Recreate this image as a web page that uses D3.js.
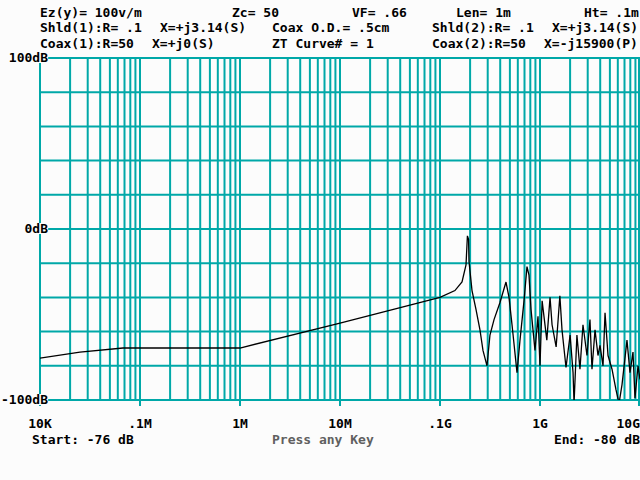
<!DOCTYPE html>
<html><head><meta charset="utf-8">
<script src="https://cdn.jsdelivr.net/npm/d3@7"></script>
<style>body{margin:0;background:#fcfcfc}text{font-family:"DejaVu Sans Mono",monospace;font-weight:bold;font-size:13px}</style>
</head><body><svg id="c" width="640" height="480"></svg>
<script>
const freqs=[1e4,2.51e4,6.76e4,1e6,1e7,1e8,1.41e8,1.66e8,1.82e8,1.88e8,1.93e8,1.95e8,2.09e8,2.29e8,2.51e8,2.69e8,2.95e8,3.16e8,3.47e8,3.98e8,4.57e8,4.9e8,5.25e8,5.89e8,6.31e8,6.92e8,7.41e8,7.76e8,8.13e8,8.91e8,9.55e8,1e9,1.05e9,1.17e9,1.26e9,1.32e9,1.45e9,1.58e9,1.66e9,1.82e9,2e9,2.14e9,2.19e9,2.34e9,2.51e9,2.69e9,2.95e9,3.16e9,3.31e9,3.55e9,3.8e9,3.98e9,4.27e9,4.47e9,4.79e9,5.25e9,5.75e9,6.17e9,6.61e9,7.41e9,7.94e9,8.51e9,8.91e9,9.55e9,1e10];
const dB=[-75.5,-72,-69.6,-69.6,-55,-40,-36,-31,-21,-4,-6,-19,-36,-47,-59,-71,-80,-62,-53,-43,-31,-40,-56,-84,-65,-42,-22,-27,-47,-71,-51,-80,-42,-65,-40,-56,-69,-39,-59,-81,-62,-84,-102,-62,-82,-56,-74,-53,-82,-59,-74,-68,-80,-49,-74,-82,-94,-102,-91,-65,-84,-72,-99,-80,-88];
const xTickVals=[1e4,1e5,1e6,1e7,1e8,1e9,1e10];
const xTickLabels=["10K",".1M","1M","10M",".1G","1G","10G"];
const yLabelVals=[100,0,-100];
const yLabels=["100dB","0dB","-100dB"];
const header=[["Ez(y)= 100v/m",40,13],["Zc= 50",232,13],["VF= .66",352,13],["Len= 1m",456,13],["Ht= .1m",584,13],
["Shld(1):R= .1",40,28],["X=+j3.14(S)",160,28],["Coax O.D.= .5cm",272,28],["Shld(2):R= .1",432,28],["X=+j3.14(S)",552,28],
["Coax(1):R=50",40,44],["X=+j0(S)",152,44],["ZT Curve# = 1",272,44],["Coax(2):R=50",432,44],["X=-j15900(P)",544,44]];
const svg=d3.select("#c");
const x=d3.scaleLog().domain([1e4,1e10]).range([40,640]);
const y=d3.scaleLinear().domain([-100,100]).range([400,58]);
const teal="#00a8a8";
const g=svg.append("g");
// vertical grid
const vlines=[];
for(let e=4;e<10;e++)for(let m=1;m<10;m++)vlines.push(m*Math.pow(10,e));
vlines.push(1e10);
g.selectAll(".v").data(vlines).join("line").attr("x1",d=>Math.min(639,x(d))).attr("x2",d=>Math.min(639,x(d)))
 .attr("y1",y(100)).attr("y2",d=>xTickVals.includes(d)?y(-100)+6:y(-100)).attr("stroke",teal).attr("stroke-width",2);
g.selectAll(".h").data(d3.range(-100,101,20)).join("line").attr("x1",40).attr("x2",640)
 .attr("y1",d=>y(d)).attr("y2",d=>y(d)).attr("stroke",teal).attr("stroke-width",2);
svg.append("clipPath").attr("id","cp").append("rect").attr("x",40).attr("y",58).attr("width",600).attr("height",342);
const line=d3.line().x((d,i)=>x(freqs[i])).y(d=>y(d));
svg.append("path").datum(dB).attr("d",line).attr("fill","none").attr("stroke","#000").attr("stroke-width",1.3).attr("clip-path","url(#cp)");
// y labels
yLabelVals.forEach((v,i)=>{
 const t=svg.append("text").attr("x",48).attr("y",y(v)+4).attr("text-anchor","end").text(yLabels[i]);
 const b=t.node().getBBox();
 svg.insert("rect","text").attr("x",b.x).attr("y",b.y+2).attr("width",b.width).attr("height",b.height-4).attr("fill","#fcfcfc");
});
svg.selectAll(".xl").data(xTickVals).join("text").attr("x",(d,i)=>i==6?640:x(d)).attr("y",428)
 .attr("text-anchor",(d,i)=>i==6?"end":"middle").text((d,i)=>xTickLabels[i]);
svg.selectAll(".hd").data(header).join("text").attr("x",d=>d[1]).attr("y",d=>d[2]+4).text(d=>d[0]);
svg.append("text").attr("x",32).attr("y",444).text("Start: -76 dB");
svg.append("text").attr("x",640).attr("y",444).attr("text-anchor","end").text("End: -80 dB");
svg.append("text").attr("x",272).attr("y",444).attr("fill","#606060").text("Press any Key");
</script></body></html>
